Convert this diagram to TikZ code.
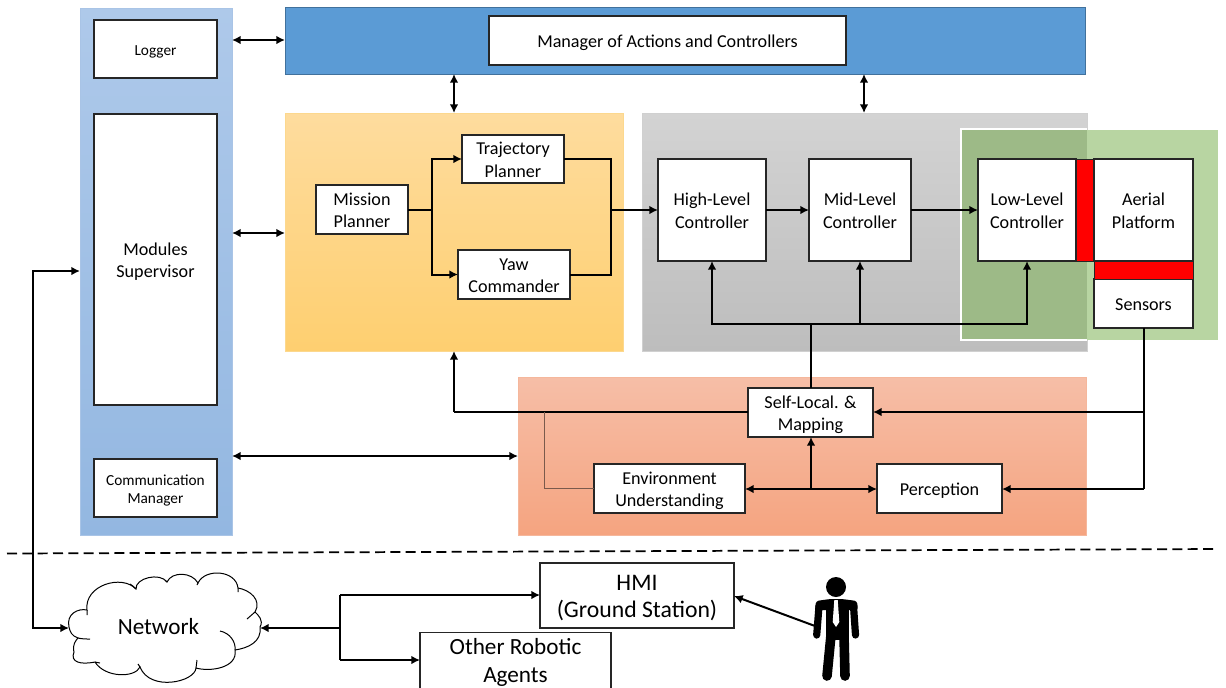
\documentclass[tikz,border=0pt]{standalone}
\usepackage{fontspec}
\setmainfont{Carlito}
\usetikzlibrary{arrows.meta}
\newcommand{\pxbox}[7][]{%
  \pgfmathsetmacro{\pxw}{(#5-#3)*0.75}%
  \pgfmathsetmacro{\pxh}{(#6-#4)*0.75}%
  \pgfmathsetmacro{\pxcx}{(#3+#5)/2}%
  \pgfmathsetmacro{\pxcy}{(#4+#6)/2}%
  \node[#2,minimum width=\pxw pt,minimum height=\pxh pt,#1] (#7) at (\pxcx,\pxcy) {};}
\newcommand{\pxtext}[8][]{%
  \pgfmathsetmacro{\pxw}{(#5-#3)*0.75}%
  \pgfmathsetmacro{\pxh}{(#6-#4)*0.75}%
  \pgfmathsetmacro{\pxcx}{(#3+#5)/2}%
  \pgfmathsetmacro{\pxcy}{(#4+#6)/2}%
  \node[#2,minimum width=\pxw pt,minimum height=\pxh pt,#1] (#7) at (\pxcx,\pxcy)
    {\raisebox{-2pt}[\height][\depth]{\begin{tabular}{@{}c@{}}#8\end{tabular}}};}
\definecolor{boxedge}{HTML}{262626}
\definecolor{sideEdge}{HTML}{A9C4E6}
\definecolor{sideTop}{HTML}{AEC9EA}
\definecolor{sideBot}{HTML}{93B7E1}
\definecolor{topEdge}{HTML}{41719C}
\definecolor{topFill}{HTML}{5B9BD5}
\definecolor{orEdge}{HTML}{FCD88E}
\definecolor{orTop}{HTML}{FEDC9E}
\definecolor{orBot}{HTML}{FECF70}
\definecolor{grEdge}{HTML}{D0D0D0}
\definecolor{grTop}{HTML}{D3D3D3}
\definecolor{grBot}{HTML}{BDBDBD}
\definecolor{saEdge}{HTML}{F5B79C}
\definecolor{saTop}{HTML}{F6BEA7}
\definecolor{saBot}{HTML}{F5A480}
\definecolor{greenFill}{HTML}{B8D5A2}
\definecolor{overlapFill}{HTML}{9DBA87}
\definecolor{thinCol}{HTML}{7A5A4C}
\tikzset{
  panelbox/.style={inner sep=0pt,outer sep=0pt,rectangle,line width=0.5pt},
  whitebox/.style={inner sep=0pt,outer sep=0pt,rectangle,draw=boxedge,fill=white,line width=0.9pt,
     font=\fontsize{13.6}{16.8}\selectfont},
  smalltext/.style={font=\fontsize{11.5}{14.2}\selectfont},
  link/.style={draw=black,line width=1.5pt,line join=miter},
  arr/.style={link,-{Latex[length=6.5pt,width=6.5pt]}},
  darr/.style={link,{Latex[length=6.5pt,width=6.5pt]}-{Latex[length=6.5pt,width=6.5pt]}},
  thinlink/.style={draw=thinCol,line width=0.75pt},
  redbar/.style={inner sep=0pt,outer sep=0pt,rectangle,fill=red,draw=boxedge,line width=0.6pt},
  figline/.style={draw=black,line cap=round,line join=round},
}
\begin{document}
\begin{tikzpicture}[x=0.75pt,y=-0.75pt]
\useasboundingbox (0,0) rectangle (1226,687);
\fill[white] (0,0) rectangle (1226,687);
% panels
\pxbox[draw=sideEdge,top color=sideTop,bottom color=sideBot]{panelbox}{80}{8}{232}{535}{sideP}
\pxbox[draw=topEdge,fill=topFill]{panelbox}{285}{7}{1085}{74}{topP}
\pxbox[draw=orEdge,top color=orTop,bottom color=orBot]{panelbox}{285}{113}{623}{351}{orangeP}
\pxbox[draw=grEdge,top color=grTop,bottom color=grBot]{panelbox}{642}{113}{1087}{351}{grayP}
\pxbox[draw=saEdge,top color=saTop,bottom color=saBot]{panelbox}{518}{377}{1086}{535}{salmonP}
\pxbox[draw=greenFill,fill=greenFill]{panelbox}{962}{130}{1217}{339}{greenP}
\pxbox[fill=overlapFill]{panelbox}{962}{130}{1087}{339}{overlapP}
\draw[white,line width=1.4pt] (1087,129) -- (961,129) -- (961,340) -- (1087,340);
% side boxes
\pxtext[smalltext]{whitebox}{94}{20}{217}{78}{logger}{Logger}
\pxtext{whitebox}{94}{114}{217}{405}{supervisor}{Modules\\Supervisor}
\pxtext[smalltext]{whitebox}{94}{459}{217}{517}{comm}{Communication\\Manager}
\pxtext{whitebox}{489}{16}{846}{65}{manager}{Manager of Actions and Controllers}
% planners
\pxtext{whitebox}{316}{185}{408}{234}{mission}{Mission\\Planner}
\pxtext{whitebox}{462}{135}{564}{183}{traj}{Trajectory\\Planner}
\pxtext{whitebox}{458}{250}{570}{299}{yaw}{Yaw\\Commander}
% controllers
\pxtext{whitebox}{658}{159}{766}{261}{high}{High-Level\\Controller}
\pxtext{whitebox}{809}{159}{911}{261}{mid}{Mid-Level\\Controller}
\pxtext{whitebox}{978}{159}{1076}{261}{low}{Low-Level\\Controller}
\pxbox{redbar}{1076}{159}{1094}{261}{redV}
\pxtext{whitebox}{1094}{159}{1193}{261}{aerial}{Aerial\\Platform}
\pxtext{whitebox}{1094}{279}{1193}{328}{sensors}{Sensors}
\pxbox{redbar}{1094}{261}{1193}{279}{redH}
% perception
\pxtext{whitebox}{748}{388}{873}{437}{slam}{Self-Local. \&\\Mapping}
\pxtext{whitebox}{594}{464}{745}{513}{env}{Environment\\Understanding}
\pxtext{whitebox}{877}{464}{1002}{513}{perc}{Perception}
% lower
\pxtext[font=\fontsize{17.8}{20.2}\selectfont]{whitebox}{540}{563}{734}{628}{hmi}{HMI\\(Ground Station)}
\pxtext[font=\fontsize{17.4}{21}\selectfont]{whitebox}{420}{633}{611}{688}{agents}{Other Robotic\\Agents}
% cloud
\draw[fill=white,draw=black,line width=0.75pt]
 (69,627) .. controls (66,614) and (78,608) .. (87,610)
 .. controls (84,585) and (122,574) .. (136,589)
 .. controls (135,578) and (160,572) .. (167,582)
 .. controls (172,571) and (192,572) .. (198,583)
 .. controls (205,568) and (236,570) .. (238,588)
 .. controls (250,590) and (262,600) .. (255,612)
 .. controls (258,615) and (264,620) .. (260,627)
 .. controls (262,642) and (248,648) .. (235,650)
 .. controls (238,668) and (210,672) .. (196,668)
 .. controls (195,682) and (150,692) .. (140,667)
 .. controls (135,678) and (105,678) .. (95,662)
 .. controls (80,665) and (70,662) .. (74,652)
 .. controls (72,645) and (76,640) .. (78,638)
 .. controls (72,636) and (70,632) .. (69,627) -- cycle;
\draw[black,line width=0.75pt]
 (78,638) .. controls (82,639) and (86,639) .. (90,639)
 (87,610) -- (87,615)
 (136,589) .. controls (134,587) and (132,585) .. (130,584)
 (167,582) -- (165,580)
 (198,583) -- (197,585)
 (238,588) -- (238,592)
 (255,612) -- (247,619)
 (220,631) .. controls (230,633) and (236,642) .. (235,650)
 (196,668) -- (197,660)
 (140,667) -- (138,664)
 (95,662) -- (100,663);
\node[inner sep=0pt,font=\fontsize{17.4}{20}\selectfont] (net) at (158.5,627) {Network};
\coordinate (netW) at (69,628);
\coordinate (netE) at (260,628);
% dashed separator
\coordinate (dashL) at (7,553.5);
\coordinate (dashR) at (1218,549);
\draw[black,line width=1.3pt,dash pattern=on 7.5pt off 4pt] (dashL) -- (dashR);
% person
\fill[black] (836,587) circle [radius=7.5pt];
\fill[black,rounded corners=2pt] (815,610) -- (816,601) -- (830,599) -- (842,599) -- (857,601) -- (858,610) -- cycle;
\fill[black] (826,605) rectangle (849,640);
\draw[figline,line width=5.4pt] (819,606) -- (816.7,635);
\draw[figline,line width=5.4pt] (853.5,606) -- (855.5,635);
\draw[figline,line width=7.2pt] (831,635) -- (827,676);
\draw[figline,line width=7.2pt] (844,635) -- (845,676);
\fill[white] (834.3,600) -- (837.7,600) -- (839.3,622) -- (836,627) -- (832.7,622) -- cycle;
\coordinate (personW) at (815,626);
% connectors
\coordinate (c1) at (0,40);
\coordinate (c2) at (0,233);
\coordinate (c3) at (0,456);
\draw[darr] (sideP.east |- c1) -- (topP.west |- c1);
\draw[darr] (sideP.east |- c2) -- (orangeP.west |- c2);
\draw[darr] (sideP.east |- c3) -- (salmonP.west |- c3);
\coordinate (c4) at (454,0);
\coordinate (c5) at (864,0);
\draw[darr] (topP.south -| c4) -- (orangeP.north -| c4);
\draw[darr] (topP.south -| c5) -- (grayP.north -| c5);
% planner links
\coordinate (b1) at (432,210);
\coordinate (b2) at (611,210);
\draw[link] (mission.east |- b1) -- (b1);
\draw[arr] (b1) |- (traj.west);
\draw[arr] (b1) |- (yaw.west);
\draw[link] (traj.east) -| (b2);
\draw[link] (yaw.east) -| (b2);
\draw[arr] (b2) -- (high.west |- b2);
\draw[arr] (high.east |- b2) -- (mid.west |- b2);
\draw[arr] (mid.east |- b2) -- (low.west |- b2);
% feedback to controllers
\coordinate (b3) at (811,324);
\coordinate (b4) at (1027,324);
\draw[link] (slam.north -| b3) -- (b3);
\draw[arr] (b3) -| (high.south);
\draw[arr] (b3) -| (mid.south);
\draw[arr] (b3) -- (b4) -- (low.south -| b4);
% sensors
\coordinate (b5) at (1143.5,412);
\coordinate (b6) at (1143.5,489);
\draw[link] (sensors.south -| b5) -- (b6);
\draw[arr] (b6) -- (perc.east |- b6);
\draw[arr] (b5) -- (slam.east |- b5);
% slam to planners
\coordinate (b7) at (454,412);
\draw[link] (slam.west |- b7) -- (b7);
\draw[arr] (b7) -- (orangeP.south -| b7);
\coordinate (b8) at (544,412);
\coordinate (b9) at (544,488);
\draw[thinlink] (b8) -- (b9) -- (env.west |- b9);
% env / perception
\coordinate (b10) at (811,489);
\draw[darr] (env.east |- b10) -- (perc.west |- b10);
\draw[arr] (b10) -- (slam.south -| b10);
% network
\coordinate (b11) at (33,271);
\coordinate (b12) at (33,628);
\draw[darr,line width=2.1pt] (sideP.west |- b11) -- (b11) -- (b12) -- (netW);
\coordinate (b13) at (340,628);
\coordinate (b14) at (340,595);
\coordinate (b15) at (340,660);
\draw[arr] (b13) -- (netE);
\draw[arr] (b14) -- (hmi.west |- b14);
\draw[arr] (b15) -- (agents.west |- b15);
\draw[link] (b14) -- (b15);
\coordinate (hmiE) at (734,596);
\draw[arr] (personW) -- (hmiE);
\end{tikzpicture}
\end{document}
